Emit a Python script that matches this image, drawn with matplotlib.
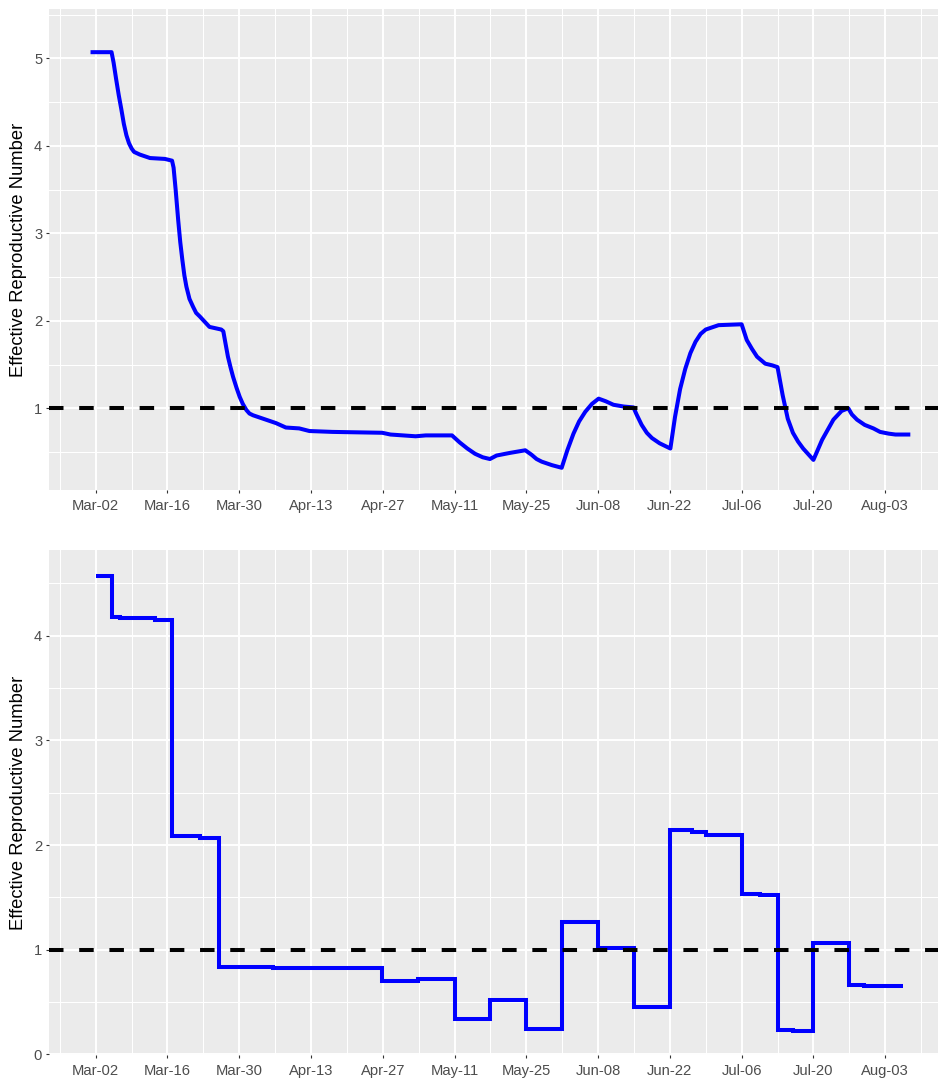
import matplotlib
matplotlib.use('Agg')
import matplotlib.pyplot as plt
import matplotlib.dates as mdates
from matplotlib.ticker import FixedLocator, MultipleLocator
import numpy as np

START = np.datetime64('2020-03-02')

# Smoothed estimate: days after START and Rt value
smooth_day = [-1, 3.1, 3.5, 4, 4.5, 5, 5.5, 6, 6.5, 7, 7.5, 8.6, 10.6, 13.5, 14.9, 15.2,
              15.6, 16.1, 16.5, 16.9, 17.3, 17.7, 18.3, 19, 19.6, 20.3, 22.2, 24.5,
              24.9, 25.3, 25.8, 26.3, 26.8, 27.5, 28.1, 28.7, 29.4, 30, 30.7, 33.2,
              35.2, 37.1, 39.7, 41.7, 46.2, 55.9, 57.5, 62.4, 64.4, 69.5, 71, 72.5,
              74, 75.5, 76.9, 78.2, 80.8, 83.8, 85, 86, 87, 89, 90.9, 92, 93.2, 94.3,
              95.5, 96.8, 98.1, 99.5, 101, 103, 104.9, 105.5, 106.5, 107.5, 108.5,
              110, 112.1, 113, 114, 115, 116, 117, 118, 119, 121.5, 126, 127, 128,
              129, 130.6, 132, 133, 134, 135, 136, 137, 138, 140, 141.7, 143.9,
              145.5, 146.8, 147.5, 148.5, 150, 151.7, 153, 154.7, 156, 158.9]
smooth_rt = [5.07, 5.07, 4.95, 4.76, 4.58, 4.42, 4.25, 4.12, 4.03, 3.97, 3.93, 3.90, 3.86,
             3.85, 3.83, 3.75, 3.50, 3.15, 2.90, 2.70, 2.52, 2.39, 2.25, 2.16, 2.09,
             2.05, 1.93, 1.90, 1.88, 1.75, 1.59, 1.47, 1.36, 1.23, 1.13, 1.05, 0.98,
             0.94, 0.92, 0.87, 0.83, 0.78, 0.77, 0.74, 0.73, 0.72, 0.70, 0.68, 0.69,
             0.69, 0.61, 0.54, 0.48, 0.44, 0.42, 0.46, 0.49, 0.52, 0.47, 0.42, 0.39,
             0.35, 0.32, 0.52, 0.71, 0.85, 0.96, 1.05, 1.11, 1.08, 1.04, 1.02, 1.01,
             0.93, 0.81, 0.72, 0.66, 0.60, 0.54, 0.90, 1.22, 1.45, 1.63, 1.76, 1.85,
             1.90, 1.95, 1.96, 1.78, 1.68, 1.59, 1.51, 1.49, 1.47, 1.15, 0.88, 0.72,
             0.62, 0.54, 0.41, 0.64, 0.87, 0.97, 1.00, 0.93, 0.87, 0.81, 0.77, 0.73,
             0.71, 0.70, 0.70]

# Piecewise-constant estimate: each value holds from its start day until the next one
step_day = [0, 3.1, 4.7, 11.6, 14.9, 20.3, 24, 34.6, 55.9, 62.9, 70, 77, 84, 91, 98,
            105, 112, 116.3, 119, 126, 129.6, 133, 136.1, 140, 147, 149.8]
step_rt = [4.57, 4.18, 4.17, 4.15, 2.085, 2.07, 0.84, 0.83, 0.70, 0.72, 0.34, 0.525,
           0.24, 1.27, 1.02, 0.45, 2.14, 2.13, 2.10, 1.53, 1.52, 0.23, 0.22, 1.065,
           0.665, 0.65]
step_end = 157.4

threshold = 1.0
y_label = 'Effective Reproductive Number'

plt.rcParams['font.family'] = ['Liberation Sans', 'DejaVu Sans']

W, H = 938, 1082
fig = plt.figure(figsize=(W / 100, H / 100), dpi=100)


def panel(top, bottom):
    return fig.add_axes([49 / W, 1 - bottom / H, (W - 49) / W, (bottom - top) / H])


ax1 = panel(9.3, 490)
ax2 = panel(550, 1055)

x0 = mdates.date2num(START)
xs = x0 + np.array(smooth_day)
ax1.plot(xs, smooth_rt, color='#0000FF', lw=2.9, solid_capstyle='butt',
         solid_joinstyle='round', zorder=3)

sx = x0 + np.array(step_day + [step_end])
sy = step_rt + [step_rt[-1]]
ax2.step(sx, sy, where='post', color='#0000FF', lw=2.9, solid_capstyle='butt',
         solid_joinstyle='miter', zorder=3)

for ax, ylim, yticks in [(ax1, (0.066, 5.56), [1, 2, 3, 4, 5]),
                         (ax2, (-0.005, 4.82), [0, 1, 2, 3, 4])]:
    ax.axhline(threshold, color='black', lw=2.9, dashes=(3.6, 3.9),
               dash_capstyle='butt', zorder=4)
    ax.set_facecolor('#EBEBEB')
    for s in ax.spines.values():
        s.set_visible(False)
    ax.set_xlim(x0 - 9.1, x0 + 164.3)
    ax.set_ylim(*ylim)
    major = x0 + np.arange(-14, 180, 14)
    ax.xaxis.set_major_locator(FixedLocator(major))
    ax.xaxis.set_minor_locator(FixedLocator(major + 7))
    ax.xaxis.set_major_formatter(mdates.DateFormatter('%b-%d'))
    ax.yaxis.set_major_locator(FixedLocator(yticks))
    ax.yaxis.set_minor_locator(MultipleLocator(0.5))
    ax.grid(which='major', color='white', lw=1.4)
    ax.grid(which='minor', color='white', lw=0.75)
    ax.set_axisbelow(True)
    ax.tick_params(which='major', length=2.4, width=0.8, color='#333333',
                   labelcolor='#4D4D4D', labelsize=10.6)
    ax.tick_params(axis='x', which='major', pad=4.0)
    ax.tick_params(axis='y', which='major', pad=2.5)
    ax.tick_params(which='minor', length=0)
    ax.set_ylabel(y_label, fontsize=13.2, color='black')
    ax.yaxis.set_label_coords(-0.0245, 0.5)

fig.savefig('out.png', dpi=100)
